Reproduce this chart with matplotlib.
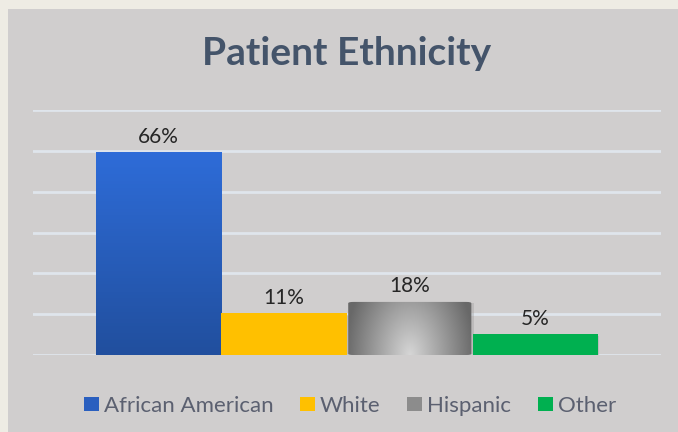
import numpy as np
import matplotlib
matplotlib.use("Agg")
import matplotlib.pyplot as plt
from matplotlib.patches import Rectangle, FancyBboxPatch, Patch

plt.rcParams['font.family'] = ['Lato', 'DejaVu Sans']

# data (bar heights on a 0-60 axis, labels as printed)
categories = ['African American', 'White', 'Hispanic', 'Other']
heights = [49.7, 10.3, 13.3, 5.2]
value_labels = ['66%', '11%', '18%', '5%']

fig = plt.figure(figsize=(6.78, 4.32), dpi=100)
fig.patch.set_facecolor('#eeece4')

# grey chart panel
panel = Rectangle((8 / 678, 0), 1, 1 - 9 / 432, transform=fig.transFigure,
                  facecolor='#d0cece', edgecolor='none', zorder=-10)
fig.patches.append(panel)

ax = fig.add_axes([33 / 678, 1 - 355 / 432, 628 / 678, 245 / 432])
ax.set_facecolor('none')
ax.set_xlim(-1, 4)
ax.set_ylim(0, 60)
for s in ax.spines.values():
    s.set_visible(False)
ax.set_xticks([])
ax.set_yticks(np.arange(0, 61, 10))
ax.tick_params(left=False, labelleft=False)
ax.yaxis.grid(True, color='#dfe5ec', linewidth=2)
ax.set_axisbelow(True)

x = np.arange(len(categories))
bars = ax.bar(x, heights, width=1.0, color='none', edgecolor='none', zorder=3)


def vgrad(top, bottom, n=100):
    t = np.linspace(0, 1, n)[:, None, None]
    a = np.array(matplotlib.colors.to_rgb(top))
    b = np.array(matplotlib.colors.to_rgb(bottom))
    return np.repeat(a * (1 - t) + b * t, 2, axis=1)


def shadow(b):
    ax.add_patch(Rectangle((b.get_x() + 0.008, -0.5), b.get_width(), b.get_height(),
                           facecolor='#9a9898', edgecolor='none', alpha=0.35, zorder=2))


# blue bar with vertical gradient
b0 = bars[0]
x0, w, h = b0.get_x(), b0.get_width(), b0.get_height()
shadow(b0)
im = ax.imshow(vgrad('#2e6cd8', '#214f9e'), extent=(x0, x0 + w, 0, h),
               aspect='auto', zorder=3, origin='upper')
im.set_clip_path(Rectangle((x0, 0), w, h, transform=ax.transData))

# yellow and green bars, flat colours
for b, c in [(bars[1], '#ffc000'), (bars[3], '#00b050')]:
    shadow(b)
    ax.add_patch(Rectangle((b.get_x(), 0), b.get_width(), b.get_height(),
                           facecolor=c, edgecolor='none', zorder=3))

# grey bar: rounded with radial shading
b2 = bars[2]
x2, w2, h2 = b2.get_x(), b2.get_width(), b2.get_height()
shadow(b2)
gx, gy = np.meshgrid(np.linspace(-1, 1, 200), np.linspace(0, 1, 100))
r = np.sqrt(gx ** 2 + (gy * 0.55) ** 2)
shade = np.clip(0.84 - 0.42 * r, 0.41, 0.85)
rgb = np.dstack([shade, shade, shade])
im2 = ax.imshow(rgb, extent=(x2, x2 + w2, 0, h2), aspect='auto', zorder=3, origin='lower')
clip = FancyBboxPatch((x2 + 0.01, 0), w2 - 0.02, h2 - 0.3,
                      boxstyle='round,pad=0,rounding_size=0.04',
                      mutation_aspect=8, transform=ax.transData,
                      facecolor='none', edgecolor='none')
ax.add_patch(clip)
im2.set_clip_path(clip)

for b, lab in zip(bars, value_labels):
    ax.text(b.get_x() + b.get_width() / 2, b.get_height() + 1.2, lab,
            ha='center', va='bottom', fontsize=15, color='#262626', zorder=5)

fig.text(347 / 678, 1 - 65 / 432, 'Patient Ethnicity', ha='center', va='baseline',
         fontsize=28, fontweight='bold', color='#44546a')

handles = [Patch(facecolor='#2a5fbf'), Patch(facecolor='#ffc000'),
           Patch(facecolor='#8c8c8c'), Patch(facecolor='#00b050')]
leg = fig.legend(handles, categories, loc='center', bbox_to_anchor=(350 / 678, 1 - 406 / 432),
                 ncol=4, frameon=False, fontsize=16, handlelength=0.68,
                 handleheight=0.63, handletextpad=0.22, columnspacing=1.2,
                 borderpad=0)
for t in leg.get_texts():
    t.set_color('#5b6070')

fig.savefig('out.png', dpi=100, facecolor=fig.get_facecolor())
